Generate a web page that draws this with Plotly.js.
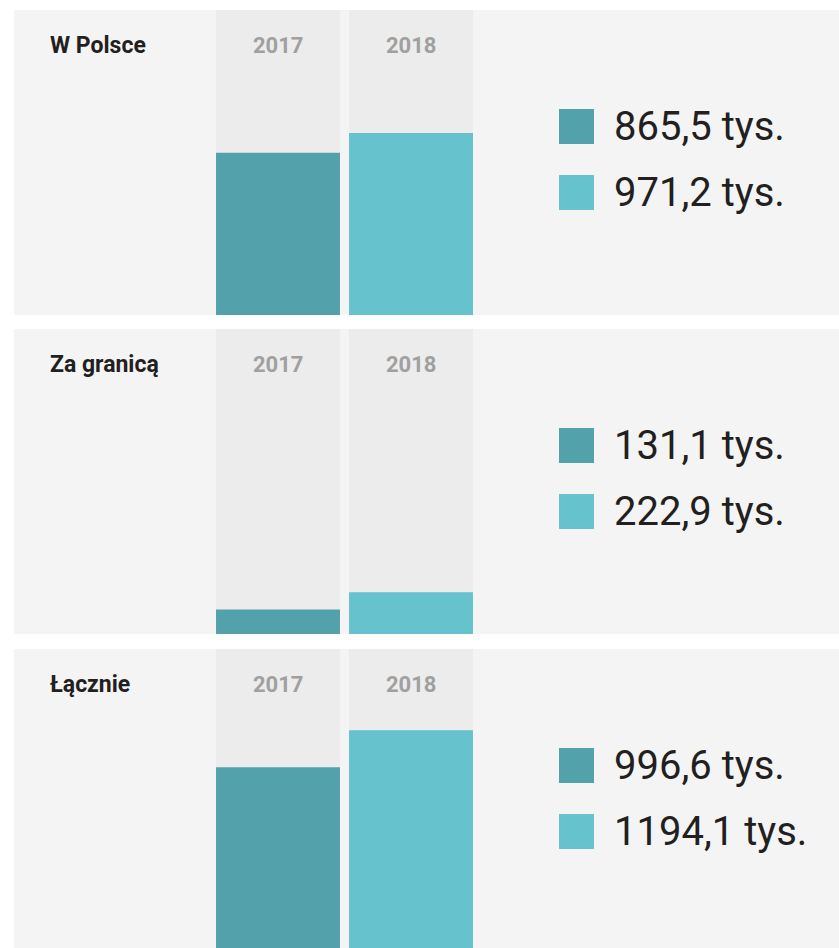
<!DOCTYPE html>
<html>
<head>
<meta charset="utf-8">
<script src="https://cdn.plot.ly/plotly-3.0.1.min.js"></script>
<style>
  body { margin: 0; background: #fff; }
  #chart { width: 839px; height: 948px; }
</style>
</head>
<body>
<div id="chart"></div>
<script>
// data (thousands of people)
const years = ['2017', '2018'];
const panelNames = ['W Polsce', 'Za granicą', 'Łącznie'];
const values2017 = [865.5, 131.1, 996.6];
const values2018 = [971.2, 222.9, 1194.1];
const yearColors = ['#53a1ab', '#66c2cc'];

const W = 839, H = 948;
const yMax = 1628;
const panelTop = [10, 329, 649];
const panelBottom = [315, 634, 948];
const yMin = [0, 0, 32]; // last panel is cut at the bottom of the picture

function py(p) { return 1 - p / H; }
function fmt(v) { return v.toFixed(1).replace('.', ',') + ' tys.'; }

let traces = [];
let layout = {
    width: W,
    height: H,
    margin: { l: 0, r: 0, t: 0, b: 0 },
    paper_bgcolor: '#ffffff',
    plot_bgcolor: '#f4f4f4',
    barmode: 'overlay',
    bargap: 0.068,
    showlegend: false,
    annotations: [],
    shapes: []
};

panelNames.forEach((name, i) => {
    let n = i === 0 ? '' : String(i + 1);
    let xa = 'x' + n, ya = 'y' + n;
    let vals = [values2017[i], values2018[i]];

    traces.push({
        type: 'bar', x: years, y: [yMax, yMax], xaxis: xa, yaxis: ya,
        marker: { color: '#ececec' }, hoverinfo: 'skip'
    });
    traces.push({
        type: 'bar', x: years, y: vals, xaxis: xa, yaxis: ya,
        marker: { color: yearColors }, hoverinfo: 'x+y'
    });

    layout['xaxis' + n] = {
        domain: [14 / W, 1], anchor: ya, type: 'category',
        range: [-1.985, 4.218], visible: false, fixedrange: true
    };
    layout['yaxis' + n] = {
        domain: [py(panelBottom[i]), py(panelTop[i])], anchor: xa,
        range: [yMin[i], yMax], visible: false, fixedrange: true
    };

    let top = panelTop[i];
    layout.annotations.push({
        xref: 'paper', yref: 'paper', x: 48 / W, y: py(top + 35),
        xanchor: 'left', yanchor: 'middle', showarrow: false, text: name,
        font: { family: 'Roboto, sans-serif', size: 23, color: '#231f20', weight: 700 }
    });
    years.forEach((yr, j) => {
        layout.annotations.push({
            xref: xa, yref: 'paper', x: j, y: py(top + 35),
            xanchor: 'center', yanchor: 'middle', showarrow: false, text: yr,
            font: { family: 'Roboto, sans-serif', size: 22, color: '#a0a0a0', weight: 700 }
        });
        let sq = top + 99 + j * 66;
        layout.shapes.push({
            type: 'rect', xref: 'paper', yref: 'paper',
            x0: 559 / W, x1: 594 / W, y0: py(sq + 35), y1: py(sq),
            fillcolor: yearColors[j], line: { width: 0 }
        });
        layout.annotations.push({
            xref: 'paper', yref: 'paper', x: 612 / W, y: py(sq + 17.5),
            xanchor: 'left', yanchor: 'middle', showarrow: false, text: fmt(vals[j]),
            font: { family: 'Roboto, sans-serif', size: 40, color: '#231f20' }
        });
    });
});

Plotly.newPlot('chart', traces, layout, { staticPlot: true });
</script>
</body>
</html>
